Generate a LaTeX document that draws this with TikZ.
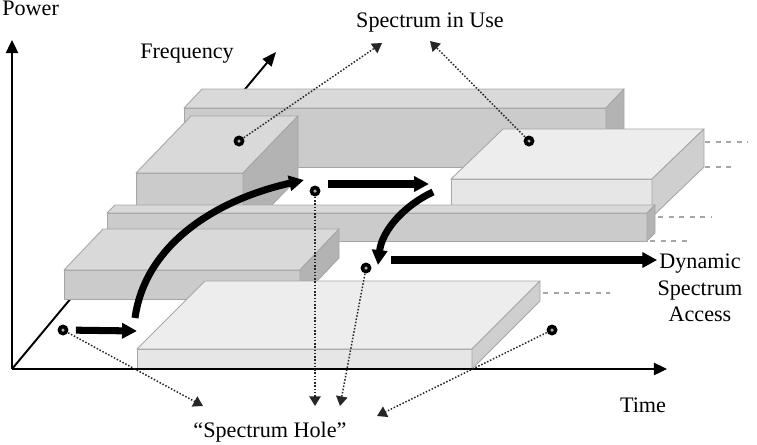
\documentclass[tikz,border=0pt]{standalone}
\usepackage{fontspec}
\setmainfont{Liberation Serif}
\usetikzlibrary{arrows.meta, positioning}
\definecolor{edgegray}{HTML}{A6A6A6}
\definecolor{lighttop}{HTML}{EDEDED}
\definecolor{lightfront}{HTML}{E6E6E6}
\definecolor{lightside}{HTML}{CFCFCF}
\definecolor{darktop}{HTML}{D9D9D9}
\definecolor{darkfront}{HTML}{CBCBCB}
\definecolor{darkside}{HTML}{B3B3B3}

\newcommand{\slab}[7]{%
  \filldraw[face, fill=#7front] (#1,#2) rectangle ({#1+#3},{#2+#4});
  \filldraw[face, fill=#7top] (#1,#2) -- ({#1+#3},#2) -- ({#1+#3+#5},{#2-#6}) -- ({#1+#5},{#2-#6}) -- cycle;
  \filldraw[face, fill=#7side] ({#1+#3},#2) -- ({#1+#3+#5},{#2-#6}) -- ({#1+#3+#5},{#2-#6+#4}) -- ({#1+#3},{#2+#4}) -- cycle;
}

\begin{document}
\begin{tikzpicture}[
    x=0.02cm, y=-0.02cm,
    face/.style={draw=edgegray, line width=0.5pt, line join=round},
    axis/.style={-{Triangle[length=7.5pt,width=7pt]}, line width=1.1pt},
    thinarrow/.style={-{Triangle[length=8pt,width=6.5pt]}, line width=1.1pt},
    flow/.style={-{Triangle[length=8.5pt,width=8.5pt]}, line width=4pt},
    pointer/.style={-{Triangle[length=5.5pt,width=6.5pt]}, densely dotted, line width=0.85pt, black!85},
    guide/.style={dashed, gray!70, line width=0.6pt},
    dot/.style={circle, fill=black, inner sep=0pt, minimum size=2.2mm,
                path picture={\fill[gray!60] (path picture bounding box.center) circle (0.35mm);}},
    txt/.style={font=\fontsize{12.6}{15}\selectfont, inner sep=0pt}
  ]
    \useasboundingbox (0,0) rectangle (757,444);
    \coordinate (o) at (12,369);
    \coordinate (powertip) at (12,40);
    \coordinate (timetip) at (667,369);
    \coordinate (freqtip) at (276,52);
    \draw[thinarrow] (o) -- (freqtip);
    \slab{184}{108}{422}{59}{18}{19}{dark}
    \slab{136}{173}{107}{62}{55}{57}{dark}
    \slab{451}{179}{201}{38}{52}{50}{light}
    \slab{107}{213}{540}{28}{8}{8}{dark}
    \slab{64}{270}{236}{29}{39}{41}{dark}
    \slab{137}{349}{335}{20}{68}{68}{light}
    \draw[guide] (705,142) -- (748,142);
    \draw[guide] (705,167) -- (733,167);
    \draw[guide] (658,217) -- (711,217);
    \draw[guide] (650,241) -- (690,241);
    \draw[guide] (543,293) -- (610,293);
    \draw[axis] (o) -- (powertip);
    \draw[axis] (o) -- (timetip);
    \node[txt, anchor=base west] (power) at (2,15) {Power};
    \node[txt, anchor=base] (freq) at (187,58) {Frequency};
    \node[txt, anchor=base] (inuse) at (430,27) {Spectrum in Use};
    \node[txt, anchor=base] (time) at (643,412) {Time};
    \node[txt, anchor=base] (hole) at (270,437) {“Spectrum Hole”};
    \node[txt, align=center] (dsa) at (700,288) {Dynamic\\Spectrum\\Access};
    \node[dot] (use1) at (239,141) {};
    \node[dot] (use2) at (529,141) {};
    \node[dot] (hole1) at (63,330) {};
    \node[dot] (hole2) at (315,191) {};
    \node[dot] (hole3) at (366,268) {};
    \node[dot] (hole4) at (552,330) {};
    \coordinate (inuseL) at (382,43);
    \coordinate (inuseR) at (430,41);
    \coordinate (holeA) at (203,406);
    \coordinate (holeB) at (315,406);
    \coordinate (holeC) at (340,406);
    \coordinate (holeD) at (377,416);
    \draw[pointer] (use1) -- (inuseL);
    \draw[pointer] (use2) -- (inuseR);
    \draw[pointer] (hole1) -- (holeA);
    \draw[pointer] (hole2) -- (holeB);
    \draw[pointer] (hole3) -- (holeC);
    \draw[pointer] (hole4) -- (holeD);
    \coordinate (hop1) at (137,331);
    \coordinate (rise0) at (135,318);
    \coordinate (rise1) at (304,180);
    \coordinate (hop2a) at (328,184);
    \coordinate (hop2b) at (429,184);
    \coordinate (drop0) at (433,192);
    \coordinate (drop1) at (378,265);
    \coordinate (go0) at (391,260);
    \coordinate (go1) at (644,260);
    \draw[flow, shorten <=4pt] (hole1) -- (hop1);
    \draw[flow] (rise0) .. controls (145,245) and (215,200) .. (rise1);
    \draw[flow] (hop2a) -- (hop2b);
    \draw[flow] (drop0) .. controls (405,205) and (382,230) .. (drop1);
    \draw[flow] (go0) -- (dsa.west |- go1);
\end{tikzpicture}
\end{document}
